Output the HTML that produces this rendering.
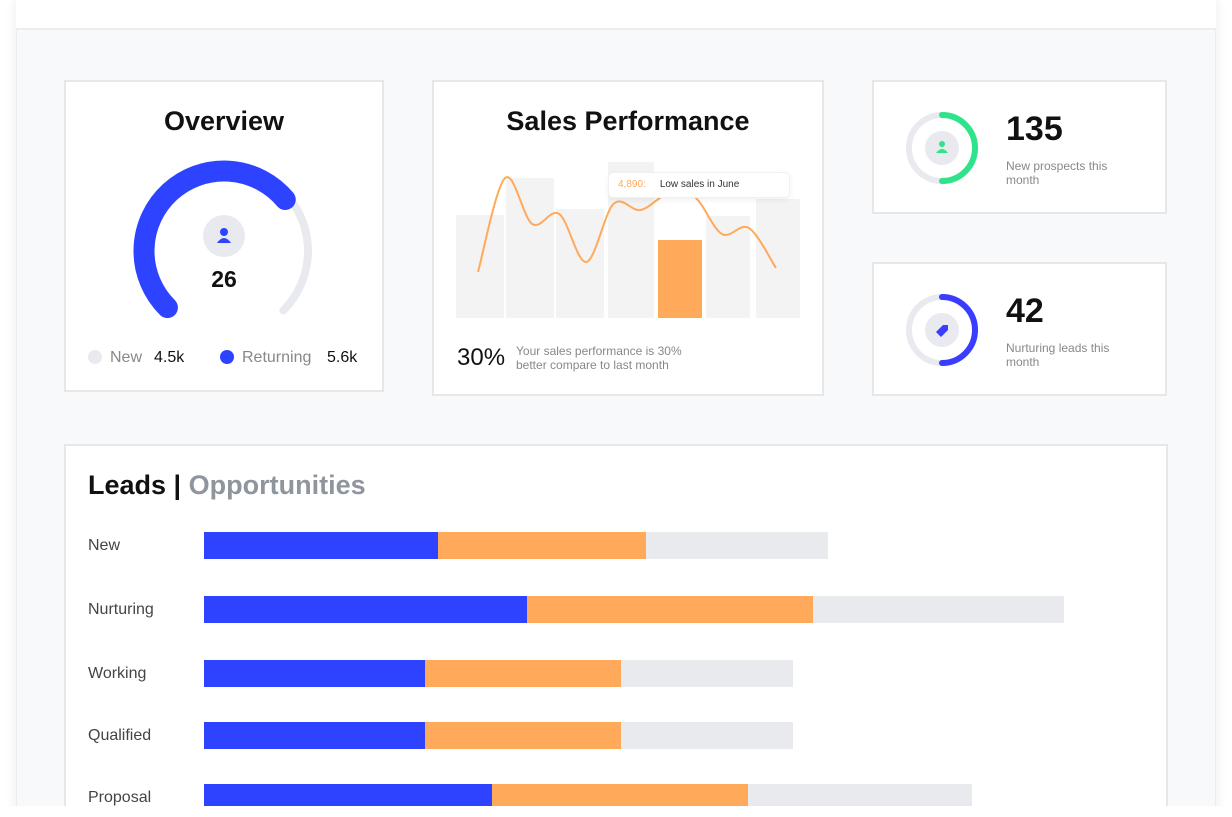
<!DOCTYPE html>
<html><head><meta charset="utf-8">
<style>
body{margin:0;width:1232px;height:817px;background:#fff;font-family:"Liberation Sans",sans-serif;position:relative;overflow:hidden}
.clip{position:absolute;left:0;top:0;width:1232px;height:806px;overflow:hidden}
.frame{position:absolute;left:16px;top:-2px;width:1200px;height:820px;background:#f8f9fb;box-shadow:0 0 12px rgba(0,0,0,0.08);border:1px solid #ececec;box-sizing:border-box}
.hdr{position:absolute;left:16px;top:0;width:1200px;height:30px;background:#fff;border-bottom:2px solid #ebedf0;box-sizing:border-box}
.card{position:absolute;background:#fff;border:2px solid #e7e7e7;box-sizing:border-box}
.t{position:absolute;white-space:nowrap}
</style></head><body>
<div class="clip">
<div class="frame"></div>
<div class="hdr"></div>

<div class="card" style="left:64px;top:80px;width:320px;height:312px">
  <div class="t" style="left:0;width:316px;text-align:center;top:24px;font-size:27px;font-weight:bold;color:#111">Overview</div>
  <svg width="316" height="308" style="position:absolute;left:0;top:0" id="gauge"></svg>
  <div class="t" style="left:0;width:316px;text-align:center;top:184px;font-size:23px;font-weight:bold;color:#111">26</div>
  <div class="t" style="left:22px;top:268px;width:14px;height:14px;border-radius:50%;background:#e8eaee"></div>
  <div class="t" style="left:44px;top:267px;font-size:16px;color:#888">New</div>
  <div class="t" style="left:88px;top:267px;font-size:16px;color:#111">4.5k</div>
  <div class="t" style="left:154px;top:268px;width:14px;height:14px;border-radius:50%;background:#2e43ff"></div>
  <div class="t" style="left:176px;top:267px;font-size:16px;color:#888">Returning</div>
  <div class="t" style="left:261px;top:267px;font-size:16px;color:#111">5.6k</div>
</div>

<div class="card" style="left:432px;top:80px;width:392px;height:316px">
  <div class="t" style="left:0;width:388px;text-align:center;top:24px;font-size:27px;font-weight:bold;color:#111">Sales Performance</div>
  <svg width="392" height="316" style="position:absolute;left:-2px;top:-2px" id="sales"></svg>
  <div class="t" style="left:174px;top:90px;width:180px;height:24px;background:#fff;border:1px solid #eef0f3;border-radius:5px;box-shadow:0 2px 6px rgba(0,0,0,0.06);font-size:10px;line-height:24px"><span style="color:#ffaa5a;margin-left:9px">4,890:</span><span style="color:#333;margin-left:14px">Low sales in June</span></div>
  <div class="t" style="left:23px;top:262px;font-size:24px;color:#111">30%</div>
  <div class="t" style="left:82px;top:262px;font-size:12px;line-height:14px;color:#888">Your sales performance is 30%<br>better compare to last month</div>
</div>

<div class="card" style="left:872px;top:80px;width:295px;height:134px">
  <svg width="100" height="100" style="position:absolute;left:18px;top:14px">
    <circle cx="50" cy="52" r="33" fill="none" stroke="#e8eaef" stroke-width="6"/>
    <path d="M50 19 A33 33 0 0 1 50 85" fill="none" stroke="#2ee38a" stroke-width="6" stroke-linecap="round"/>
    <circle cx="50" cy="52" r="17" fill="#e8eaef"/>
    <circle cx="50" cy="48" r="3" fill="#2ee38a"/><path d="M44 57 Q50 49 56 57Z" fill="#2ee38a"/>
  </svg>
  <div class="t" style="left:132px;top:28px;font-size:34px;font-weight:bold;color:#111">135</div>
  <div class="t" style="left:132px;top:77px;font-size:12px;line-height:14px;color:#888">New prospects this<br>month</div>
</div>

<div class="card" style="left:872px;top:262px;width:295px;height:134px">
  <svg width="100" height="100" style="position:absolute;left:18px;top:14px">
    <circle cx="50" cy="52" r="33" fill="none" stroke="#e8eaef" stroke-width="6"/>
    <path d="M50 19 A33 33 0 0 1 50 85" fill="none" stroke="#3a3cff" stroke-width="6" stroke-linecap="round"/>
    <circle cx="50" cy="52" r="17" fill="#e8eaef"/>
    <path d="M44 54 L51 47 L56 47 L56 52 L49 59Z" fill="#3a3cff"/>
  </svg>
  <div class="t" style="left:132px;top:28px;font-size:34px;font-weight:bold;color:#111">42</div>
  <div class="t" style="left:132px;top:77px;font-size:12px;line-height:14px;color:#888">Nurturing leads this<br>month</div>
</div>

<div class="card" style="left:64px;top:444px;width:1104px;height:400px">
  <div class="t" style="left:22px;top:24px;font-size:27px;font-weight:bold;color:#111">Leads <span style="color:#111">|</span> <span style="color:#8f959c">Opportunities</span></div>
</div>
<svg width="1232" height="806" style="position:absolute;left:0;top:0" id="leads"></svg>
</div>

<script>
const NS="http://www.w3.org/2000/svg";
function mk(p,tag,a){const e=document.createElementNS(NS,tag);for(const k in a)e.setAttribute(k,a[k]);p.appendChild(e);return e;}

// Gauge
const gaugeNew=4.5, gaugeReturning=5.6;
const gauge=document.getElementById('gauge');
(function(){
  const cx=158,cy=169,start=225,sweep=270;
  function pt(a,r){const rad=(a-90)*Math.PI/180;return [cx+r*Math.cos(rad),cy+r*Math.sin(rad)];}
  function arc(a0,a1,r){const p0=pt(a0,r),p1=pt(a1,r);const large=((a1-a0+360)%360)>180?1:0;return `M${p0[0]} ${p0[1]} A${r} ${r} 0 ${large} 1 ${p1[0]} ${p1[1]}`;}
  const frac=0.685;
  const bEnd=(start+sweep*frac)%360;
  const g=mk(gauge,'path',{d:arc(bEnd,(start+sweep)%360,84),fill:'none',stroke:'#e8eaef','stroke-width':8,'stroke-linecap':'round'});
  
  
  const b=mk(gauge,'path',{d:arc(start,bEnd,80),fill:'none',stroke:'#2e43ff','stroke-width':21,'stroke-linecap':'round'});
  
  
  mk(gauge,'circle',{cx:cx,cy:154,r:21,fill:'#e8eaef'});
  mk(gauge,'circle',{cx:cx,cy:150,r:4,fill:'#2e43ff'});
  mk(gauge,'path',{d:`M${cx-7} 161 Q${cx} 151 ${cx+7} 161Z`,fill:'#2e43ff'});
})();

// Sales chart
const months=['Jan','Feb','Mar','Apr','May','Jun','Jul'];
const barValues=[103,140,109,156,78,102,119];
const lineValues=[46,140,94,104,56,114,108,124,121,84,90,50];
const sales=document.getElementById('sales');
(function(){
  const base=238, x0=24, step=50;
  months.forEach((m,i)=>{
    const h=barValues[i];
    const w=i<3?48:(i==3?46:44);
    const x=x0+i*step+(i==4?2:0)+(i==3?2:0);
    const r=mk(sales,'rect',{x:x,y:base-h,width:w,height:h,fill:i==4?'#ffaa5a':'#f3f3f3'});
    
    
  });
  const lx0=46, lx1=344;
  const pts=lineValues.map((v,i)=>[lx0+i*(lx1-lx0)/(lineValues.length-1),base-v]);
  let d=`M${pts[0][0]} ${pts[0][1]}`;
  for(let i=0;i<pts.length-1;i++){
    const p0=pts[Math.max(0,i-1)],p1=pts[i],p2=pts[i+1],p3=pts[Math.min(pts.length-1,i+2)];
    const c1=[p1[0]+(p2[0]-p0[0])/6,p1[1]+(p2[1]-p0[1])/6],c2=[p2[0]-(p3[0]-p1[0])/6,p2[1]-(p3[1]-p1[1])/6];
    d+=` C${c1[0]} ${c1[1]} ${c2[0]} ${c2[1]} ${p2[0]} ${p2[1]}`;
  }
  const l=mk(sales,'path',{d:d,fill:'none',stroke:'#ffaa5a','stroke-width':2});
  
  
})();

// Leads chart
const stages=['New','Nurturing','Working','Qualified','Proposal'];
const blueVals=[58.5,80.75,55.25,55.25,72];
const orangeVals=[52,71.5,49,49,64];
const grayVals=[45.5,62.75,43,43,56];
const leads=document.getElementById('leads');
(function(){
  const x0=204, k=4, rowY=[532,596,660,722,784], h=27;
  stages.forEach((s,i)=>{
    const y=rowY[i];
    const t=mk(leads,'text',{x:88,y:y+18,'font-size':16,fill:'#444','font-family':'Liberation Sans, sans-serif'});
    t.textContent=s;
    
    
    let x=x0;
    [[blueVals,'#2e43ff','blue'],[orangeVals,'#ffaa5a','orange'],[grayVals,'#e9eaee','gray']].forEach(([arr,c,n])=>{
      const w=arr[i]*k;
      const r=mk(leads,'rect',{x:x,y:y,width:w,height:h,fill:c});
      
      
      x+=w;
    });
  });
})();
</script>
</body></html>
